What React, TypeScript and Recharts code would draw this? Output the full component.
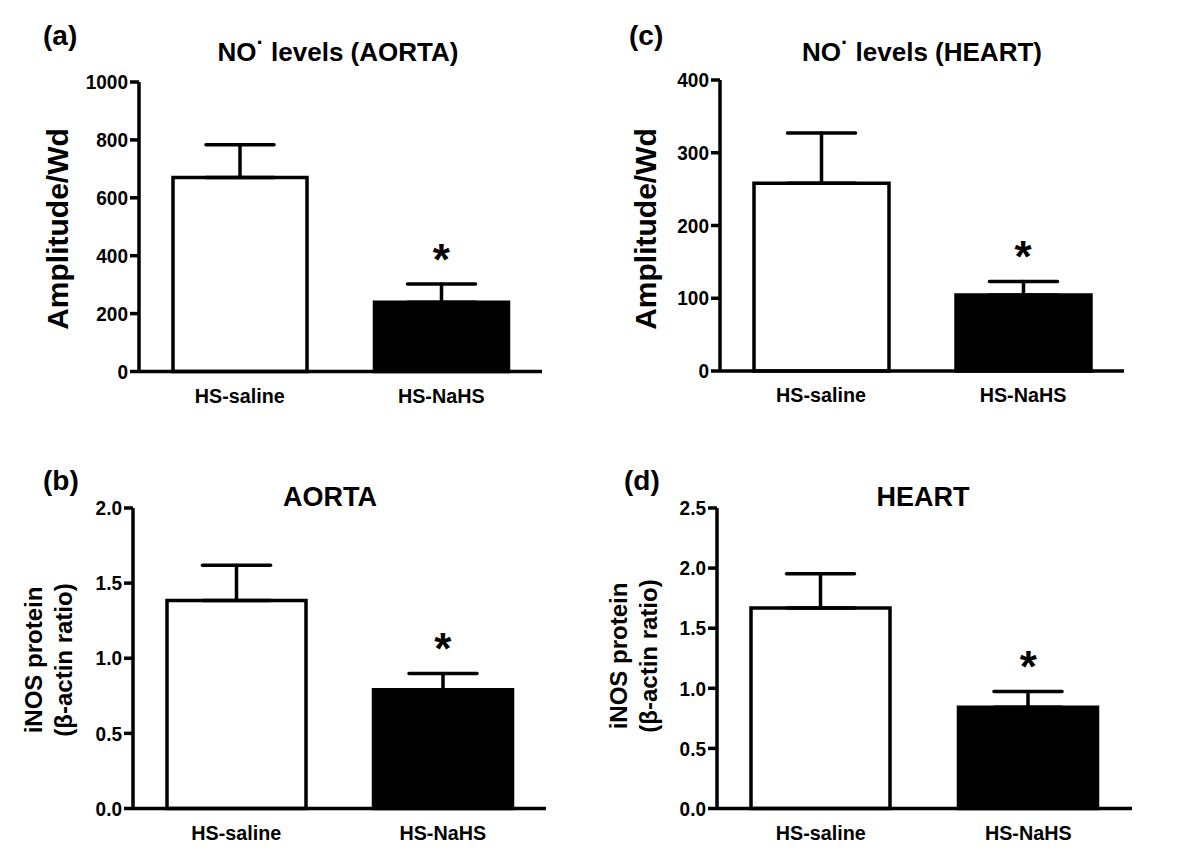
import React from 'react';
import { BarChart, Bar, XAxis, YAxis, ErrorBar, Cell, ReferenceDot } from 'recharts';

const FONT = '"Liberation Sans", Arial, Helvetica, sans-serif';

const categories = ['HS-saline', 'HS-NaHS'];
const aortaNoMeans = [670, 239];
const aortaNoErrors = [113, 63];
const heartNoMeans = [258, 104.5];
const heartNoErrors = [69, 18.5];
const aortaInosMeans = [1.385, 0.79];
const aortaInosErrors = [0.234, 0.109];
const heartInosMeans = [1.668, 0.843];
const heartInosErrors = [0.284, 0.13];
const significant = [false, true];
const barFills = ['#ffffff', '#000000'];

const noAortaTicks = [0, 200, 400, 600, 800, 1000];
const noHeartTicks = [0, 100, 200, 300, 400];
const inosAortaTicks = [0, 0.5, 1.0, 1.5, 2.0];
const inosHeartTicks = [0, 0.5, 1.0, 1.5, 2.0, 2.5];

type PanelProps = {
  means: number[];
  errors: number[];
  ticks: number[];
  decimals: number;
  chartLeft: number;
  plotLeft: number;
  plotRight: number;
  plotTop: number;
  plotBottom: number;
  barSize: number;
};

const LINE_W = 3.5;

function YTick(props: any) {
  const { x, y, payload, decimals } = props;
  return (
    <text
      transform={`translate(${x},${y}) scale(0.95,1)`}
      dy="0.36em"
      textAnchor="end"
      fontSize={20}
      fontWeight={700}
      fontFamily={FONT}
      fill="#000"
    >
      {Number(payload.value).toFixed(decimals)}
    </text>
  );
}

function XTick(props: any) {
  const { x, y, payload } = props;
  return (
    <text
      transform={`translate(${x},${y}) scale(0.94,1)`}
      dy="0.72em"
      textAnchor="middle"
      fontSize={21}
      fontWeight={700}
      fontFamily={FONT}
      fill="#000"
    >
      {payload.value}
    </text>
  );
}

function Panel(props: PanelProps) {
  const { means, errors, ticks, decimals, chartLeft, plotLeft, plotRight, plotTop, plotBottom, barSize } = props;
  const data = categories.map((name, i) => ({
    name,
    mean: means[i],
    err: [0, errors[i]],
    top: means[i] + errors[i],
    sig: significant[i],
  }));
  const marginTop = 20;
  const xAxisH = 46;
  const marginRight = 6;
  const width = plotRight - chartLeft + marginRight;
  const height = plotBottom - plotTop + marginTop + xAxisH;
  const axisStyle = { stroke: '#000', strokeWidth: LINE_W };
  const starSize = 44;
  return (
    <div style={{ position: 'absolute', left: chartLeft, top: plotTop - marginTop }}>
      <BarChart
        width={width}
        height={height}
        data={data}
        margin={{ top: marginTop, right: marginRight, bottom: 0, left: 0 }}
        barCategoryGap={0}
      >
        <XAxis
          dataKey="name"
          axisLine={axisStyle}
          tickLine={false}
          tickSize={0}
          tickMargin={16}
          height={xAxisH}
          interval={0}
          tick={<XTick />}
        />
        <YAxis
          width={plotLeft - chartLeft}
          domain={[ticks[0], ticks[ticks.length - 1]]}
          ticks={ticks}
          interval={0}
          axisLine={axisStyle}
          tickLine={axisStyle}
          tickSize={9}
          tickMargin={2}
          tick={<YTick decimals={decimals} />}
        />
        <Bar dataKey="mean" barSize={barSize} stroke="#000" strokeWidth={LINE_W} isAnimationActive={false}>
          {data.map((d, i) => (
            <Cell key={d.name} fill={barFills[i]} />
          ))}
          <ErrorBar
            dataKey="err"
            direction="y"
            width={34}
            stroke="#000"
            strokeWidth={LINE_W}
            strokeLinecap="round"
            isAnimationActive={false}
          />
        </Bar>
        {data
          .filter((d) => d.sig)
          .map((d) => (
            <ReferenceDot
              key={d.name}
              x={d.name}
              y={d.top}
              r={0}
              ifOverflow="visible"
              shape={(p: any) => (
                <text
                  x={p.cx}
                  y={p.cy - 32 + starSize * 0.52}
                  textAnchor="middle"
                  fontSize={starSize}
                  fontWeight={700}
                  fontFamily={FONT}
                  fill="#000"
                >
                  *
                </text>
              )}
            />
          ))}
      </BarChart>
    </div>
  );
}

function Overlay() {
  const bold = { fontFamily: FONT, fontWeight: 700, fill: '#000' } as const;
  return (
    <svg
      width={1200}
      height={863}
      style={{ position: 'absolute', left: 0, top: 0, pointerEvents: 'none' }}
    >
      <text x={43} y={45} fontSize={28} {...bold}>(a)</text>
      <text x={43} y={490} fontSize={28} {...bold}>(b)</text>
      <text x={629} y={45} fontSize={28} {...bold}>(c)</text>
      <text x={624} y={490} fontSize={28} {...bold}>(d)</text>

      <text x={338} y={61} fontSize={26} textAnchor="middle" {...bold}>
        NO<tspan dy={-11} fontSize={22}>·</tspan><tspan dy={11}> levels (AORTA)</tspan>
      </text>
      <text x={330} y={506} fontSize={27} textAnchor="middle" {...bold}>AORTA</text>
      <text x={922} y={61} fontSize={26} textAnchor="middle" {...bold}>
        NO<tspan dy={-11} fontSize={22}>·</tspan><tspan dy={11}> levels (HEART)</tspan>
      </text>
      <text x={923} y={506} fontSize={27} textAnchor="middle" {...bold}>HEART</text>

      <text transform="translate(68,229) rotate(-90)" fontSize={30} textAnchor="middle" {...bold}>Amplitude/Wd</text>
      <text transform="translate(656,229) rotate(-90)" fontSize={30} textAnchor="middle" {...bold}>Amplitude/Wd</text>

      <text transform="translate(42,660) rotate(-90)" fontSize={24} textAnchor="middle" {...bold}>iNOS protein</text>
      <text transform="translate(71.5,660) rotate(-90)" fontSize={24} textAnchor="middle" {...bold}>(β-actin ratio)</text>
      <text transform="translate(627,656) rotate(-90)" fontSize={24} textAnchor="middle" {...bold}>iNOS protein</text>
      <text transform="translate(657,656) rotate(-90)" fontSize={24} textAnchor="middle" {...bold}>(β-actin ratio)</text>
    </svg>
  );
}

export default function App() {
  return (
    <div style={{ position: 'absolute', left: 0, top: 0, width: 1200, height: 863, background: '#fff' }}>
      <Panel
        means={aortaNoMeans}
        errors={aortaNoErrors}
        ticks={noAortaTicks}
        decimals={0}
        chartLeft={0}
        plotLeft={139}
        plotRight={542}
        plotTop={82}
        plotBottom={371.5}
        barSize={134}
      />
      <Panel
        means={aortaInosMeans}
        errors={aortaInosErrors}
        ticks={inosAortaTicks}
        decimals={1}
        chartLeft={0}
        plotLeft={133}
        plotRight={546}
        plotTop={508}
        plotBottom={808.5}
        barSize={139}
      />
      <Panel
        means={heartNoMeans}
        errors={heartNoErrors}
        ticks={noHeartTicks}
        decimals={0}
        chartLeft={600}
        plotLeft={720}
        plotRight={1124}
        plotTop={80}
        plotBottom={371}
        barSize={135}
      />
      <Panel
        means={heartInosMeans}
        errors={heartInosErrors}
        ticks={inosHeartTicks}
        decimals={1}
        chartLeft={600}
        plotLeft={717}
        plotRight={1132}
        plotTop={508}
        plotBottom={808.5}
        barSize={139}
      />
      <Overlay />
    </div>
  );
}
